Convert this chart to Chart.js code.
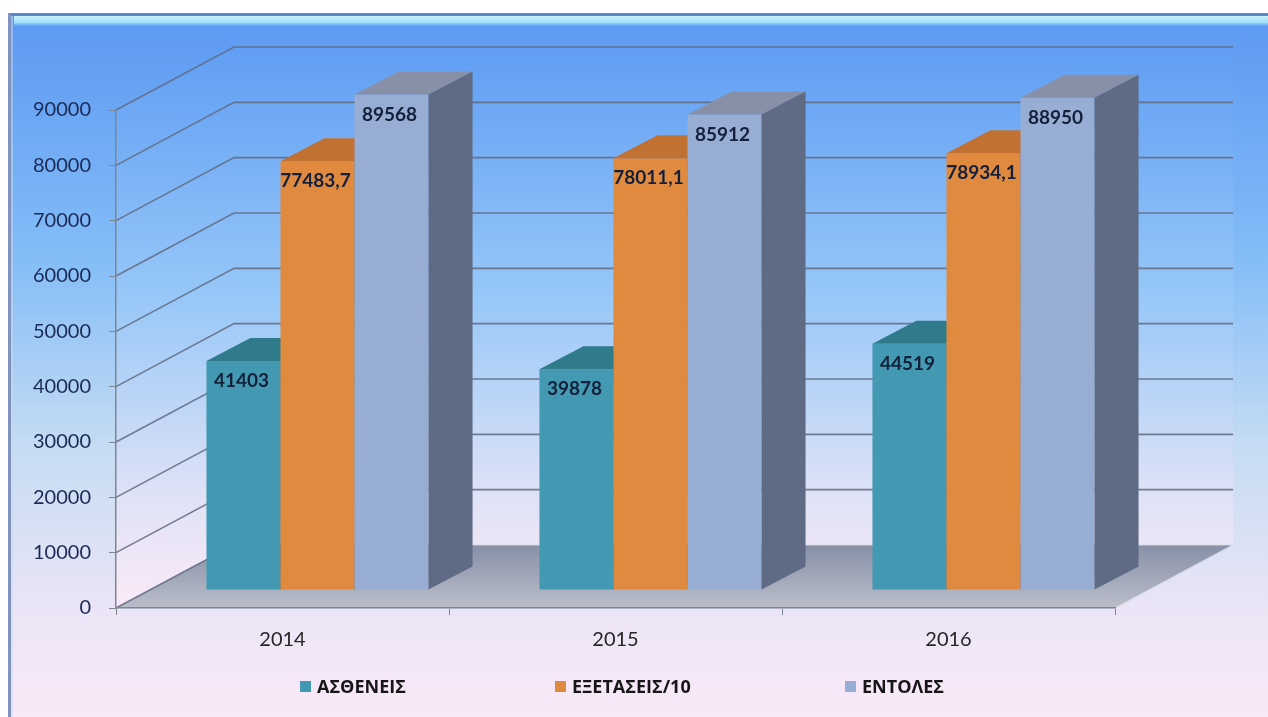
<!DOCTYPE html>
<html lang="el">
<head>
<meta charset="utf-8">
<title>ΑΣΘΕΝΕΙΣ - ΕΞΕΤΑΣΕΙΣ - ΕΝΤΟΛΕΣ</title>
<script src="https://cdn.jsdelivr.net/npm/chart.js@4.4.1/dist/chart.umd.min.js"></script>
<style>
  html, body { margin: 0; padding: 0; background: #fff; }
  #wrap { position: relative; width: 1268px; height: 717px; overflow: hidden; }
  #legend { position: absolute; left: 300px; top: 674px; display: grid; grid-template-columns: 255px 290px auto; }
  .lg-item { display: flex; align-items: center; font: bold 18px "Open Sans", sans-serif; color: #161616; line-height: 24px; }
  .lg-box { width: 11px; height: 11px; margin-right: 6px; }
</style>
</head>
<body>
<div id="wrap">
  <canvas id="grafima" width="1268" height="717"></canvas>
  <div id="legend"></div>
</div>
<script>
// dedomena
const eti = ['2014', '2015', '2016'];
const astheneis = [41403, 39878, 44519];
const exetaseis10 = [77483.7, 78011.1, 78934.1];
const entoles = [89568, 85912, 88950];
const timesY = [0, 10000, 20000, 30000, 40000, 50000, 60000, 70000, 80000, 90000];

// 3D: bathos toixon/patomatos, thesi kai bathos ton sthlon
const VATHOS = { dx: 118, dy: -63 };
const STILI_THESI = { dx: 35, dy: -18 };
const STILI_VATHOS = { dx: 44, dy: -23 };

// xromata: mprosta, pano, plai
const opseis = [
  { front: '#4299b1', top: '#2f7a8b', side: '#2a6676' },
  { front: '#e08a40', top: '#c17233', side: '#9c5a28' },
  { front: '#98add4', top: '#8790a6', side: '#5f6b85' }
];

const morfi = v => String(v).replace('.', ',');

const tridiastato = {
  id: 'tridiastato',
  beforeDraw(chart) {
    const { ctx, chartArea: a, scales: { y } } = chart;
    const W = chart.width, H = chart.height;
    ctx.save();

    // plaisio
    const bg = ctx.createLinearGradient(0, 13, 0, H);
    bg.addColorStop(0, '#5b98f2');
    bg.addColorStop(0.35, '#84bdf7');
    bg.addColorStop(0.62, '#c6dcf3');
    bg.addColorStop(0.85, '#ebe5f6');
    bg.addColorStop(1, '#fae9f8');
    ctx.fillStyle = bg;
    ctx.fillRect(8, 13, W - 8, H - 13);
    ctx.fillStyle = '#5a84cc';
    ctx.fillRect(8, 13, W - 8, 3);
    const band = ctx.createLinearGradient(0, 16, 0, 27);
    band.addColorStop(0, '#c8f2fd');
    band.addColorStop(0.6, '#a2def9');
    band.addColorStop(1, 'rgba(110,180,245,0)');
    ctx.fillStyle = band;
    ctx.fillRect(14, 16, W - 14, 11);
    ctx.fillStyle = '#7f93be';
    ctx.fillRect(8, 13, 3, H - 13);
    ctx.fillStyle = 'rgba(200,215,235,0.5)';
    ctx.fillRect(11, 16, 2, H - 16);

    const L = a.left, R = a.right, T = a.top, B = a.bottom;
    const bx = VATHOS.dx, by = VATHOS.dy;

    // toixoi
    const wall = ctx.createLinearGradient(0, T + by, 0, B);
    wall.addColorStop(0, '#609ef4');
    wall.addColorStop(0.45, '#98c8f8');
    wall.addColorStop(0.8, '#dfe2f6');
    wall.addColorStop(1, '#fbeaf8');
    ctx.fillStyle = wall;
    ctx.beginPath();
    ctx.moveTo(L, T);
    ctx.lineTo(L + bx, T + by);
    ctx.lineTo(L + bx, B + by);
    ctx.lineTo(L, B);
    ctx.closePath();
    ctx.fill();
    ctx.fillRect(L + bx, T + by, R - L, B - T);

    // patoma
    const fl = ctx.createLinearGradient(0, B + by, 0, B);
    fl.addColorStop(0, '#8790a8');
    fl.addColorStop(1, '#bbbec9');
    ctx.fillStyle = fl;
    ctx.beginPath();
    ctx.moveTo(L, B);
    ctx.lineTo(R, B);
    ctx.lineTo(R + bx, B + by);
    ctx.lineTo(L + bx, B + by);
    ctx.closePath();
    ctx.fill();
    ctx.strokeStyle = 'rgba(215,218,228,0.9)';
    ctx.lineWidth = 1.2;
    ctx.beginPath();
    ctx.moveTo(R, B);
    ctx.lineTo(R + bx, B + by);
    ctx.lineTo(L + bx, B + by);
    ctx.stroke();

    // grammes plegmatos
    ctx.strokeStyle = 'rgba(96,106,128,0.85)';
    ctx.lineWidth = 1.6;
    y.ticks.forEach(t => {
      const py = y.getPixelForValue(t.value);
      ctx.beginPath();
      ctx.moveTo(L, py);
      ctx.lineTo(L + bx, py + by);
      if (t.value > 0) ctx.lineTo(R + bx, py + by);
      ctx.stroke();
    });
    ctx.restore();
  },
  // oi stiles zografizontai oles mazi, apo aristera pros ta dexia
  beforeDatasetDraw() {
    return false;
  },
  afterDatasetsDraw(chart) {
    const ctx = chart.ctx;
    const dx = STILI_VATHOS.dx, dy = STILI_VATHOS.dy;
    ctx.save();
    ctx.translate(STILI_THESI.dx, STILI_THESI.dy);
    chart.data.labels.forEach((_, j) => {
      chart.data.datasets.forEach((ds, i) => {
        const bar = chart.getDatasetMeta(i).data[j];
        const c = opseis[i];
        const l = bar.x - bar.width / 2, r = bar.x + bar.width / 2;
        bar.draw(ctx);
        ctx.fillStyle = c.top;
        ctx.beginPath();
        ctx.moveTo(l, bar.y);
        ctx.lineTo(l + dx, bar.y + dy);
        ctx.lineTo(r + dx, bar.y + dy);
        ctx.lineTo(r, bar.y);
        ctx.closePath();
        ctx.fill();
        ctx.fillStyle = c.side;
        ctx.beginPath();
        ctx.moveTo(r, bar.y);
        ctx.lineTo(r + dx, bar.y + dy);
        ctx.lineTo(r + dx, bar.base + dy);
        ctx.lineTo(r, bar.base);
        ctx.closePath();
        ctx.fill();
      });
    });

    // etiketes timon
    ctx.font = 'bold 19px Lato, sans-serif';
    ctx.fillStyle = '#14203a';
    ctx.textAlign = 'center';
    ctx.textBaseline = 'middle';
    chart.data.datasets.forEach((ds, i) => {
      chart.getDatasetMeta(i).data.forEach((bar, j) => {
        ctx.fillText(morfi(ds.data[j]), bar.x - 2, bar.y + 20);
      });
    });
    ctx.restore();
  }
};

const htmlLegend = {
  id: 'htmlLegend',
  afterUpdate(chart) {
    const box = document.getElementById('legend');
    box.innerHTML = '';
    chart.data.datasets.forEach(ds => {
      const item = document.createElement('div');
      item.className = 'lg-item';
      const sq = document.createElement('span');
      sq.className = 'lg-box';
      sq.style.background = ds.backgroundColor;
      const txt = document.createElement('span');
      txt.textContent = ds.label;
      item.appendChild(sq);
      item.appendChild(txt);
      box.appendChild(item);
    });
  }
};

const grammi = '#7f8591';

new Chart(document.getElementById('grafima'), {
  type: 'bar',
  data: {
    labels: eti,
    datasets: [
      { label: 'ΑΣΘΕΝΕΙΣ', data: astheneis, backgroundColor: opseis[0].front },
      { label: 'ΕΞΕΤΑΣΕΙΣ/10', data: exetaseis10, backgroundColor: opseis[1].front },
      { label: 'ΕΝΤΟΛΕΣ', data: entoles, backgroundColor: opseis[2].front }
    ]
  },
  options: {
    responsive: false,
    animation: false,
    devicePixelRatio: 1,
    layout: { padding: { left: 0, top: 110, right: 153, bottom: 59 } },
    datasets: {
      bar: { categoryPercentage: 0.667, barPercentage: 1, borderWidth: 0, clip: false }
    },
    scales: {
      x: {
        offset: true,
        grid: { offset: true, drawOnChartArea: false, tickLength: 7, color: grammi },
        border: { color: grammi, width: 1.5 },
        ticks: { padding: 13, color: '#262626', font: { family: 'Lato', size: 20 } },
        afterFit: s => { s.height = 50; }
      },
      y: {
        min: 0,
        max: 90000,
        grid: { drawOnChartArea: false, tickLength: 7, color: grammi },
        border: { color: grammi, width: 1.5 },
        ticks: { padding: 18, color: '#1b2b55', font: { family: 'Lato', size: 20 }, callback: v => String(v) },
        afterBuildTicks: s => { s.ticks = timesY.map(v => ({ value: v })); },
        afterFit: s => { s.width = 116; }
      }
    },
    plugins: {
      legend: { display: false },
      tooltip: { enabled: false }
    }
  },
  plugins: [tridiastato, htmlLegend]
});
</script>
</body>
</html>
